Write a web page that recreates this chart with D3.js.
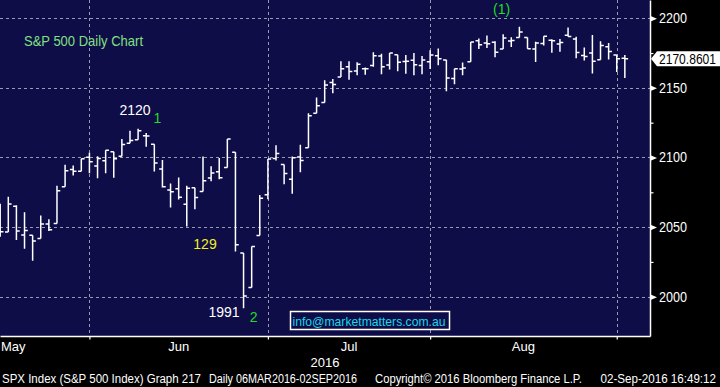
<!DOCTYPE html>
<html>
<head>
<meta charset="utf-8">
<script src="https://cdn.jsdelivr.net/npm/d3@7"></script>
<style>
  body { margin: 0; background: #000; }
  svg { display: block; font-family: "Liberation Sans", Arial, sans-serif; }
</style>
</head>
<body>
<div id="chart"></div>
<script>
// SPX daily bars, 13 May 2016 - 1 Sep 2016
var dates = [
  "2016-05-13","2016-05-16","2016-05-17","2016-05-18","2016-05-19","2016-05-20","2016-05-23","2016-05-24","2016-05-25","2016-05-26","2016-05-27","2016-05-31",
  "2016-06-01","2016-06-02","2016-06-03","2016-06-06","2016-06-07","2016-06-08","2016-06-09","2016-06-10","2016-06-13","2016-06-14","2016-06-15","2016-06-16","2016-06-17","2016-06-20","2016-06-21","2016-06-22","2016-06-23","2016-06-24","2016-06-27","2016-06-28","2016-06-29","2016-06-30",
  "2016-07-01","2016-07-05","2016-07-06","2016-07-07","2016-07-08","2016-07-11","2016-07-12","2016-07-13","2016-07-14","2016-07-15","2016-07-18","2016-07-19","2016-07-20","2016-07-21","2016-07-22","2016-07-25","2016-07-26","2016-07-27","2016-07-28","2016-07-29",
  "2016-08-01","2016-08-02","2016-08-03","2016-08-04","2016-08-05","2016-08-08","2016-08-09","2016-08-10","2016-08-11","2016-08-12","2016-08-15","2016-08-16","2016-08-17","2016-08-18","2016-08-19","2016-08-22","2016-08-23","2016-08-24","2016-08-25","2016-08-26","2016-08-29","2016-08-30","2016-08-31",
  "2016-09-01"
];
var opens = [
  2062.50,2046.53,2065.04,2044.38,2044.21,2041.88,2052.23,2052.65,2078.93,2091.44,2090.06,2100.13,
  2093.94,2097.71,2104.07,2100.83,2110.18,2112.71,2115.65,2109.57,2091.75,2076.65,2077.60,2066.36,2078.20,2075.58,2085.19,2089.75,2092.80,2103.81,2031.45,2006.67,2043.97,2073.17,
  2099.34,2095.05,2084.43,2100.42,2106.97,2131.72,2139.50,2153.81,2157.88,2165.13,2162.04,2163.79,2166.10,2172.91,2166.47,2173.71,2168.97,2169.81,2166.05,2168.83,
  2173.15,2169.94,2156.81,2163.51,2168.79,2183.76,2182.24,2182.81,2177.97,2183.74,2186.08,2186.24,2177.84,2181.90,2184.24,2181.58,2187.81,2185.09,2173.29,2175.10,2170.19,2179.45,2173.56,
  2171.33
];
var highs = [
  2066.79,2071.88,2065.69,2060.61,2044.21,2058.35,2055.58,2079.67,2094.73,2094.30,2099.06,2103.48,
  2100.97,2105.26,2104.07,2113.36,2119.22,2120.55,2117.64,2109.57,2098.12,2081.30,2085.65,2079.62,2078.20,2100.66,2093.66,2099.71,2113.32,2103.81,2031.45,2036.09,2073.13,2098.94,
  2108.71,2095.05,2100.72,2109.08,2131.71,2143.16,2155.40,2156.45,2169.05,2169.05,2168.35,2164.63,2175.63,2174.56,2175.11,2173.71,2173.54,2174.98,2172.85,2177.09,
  2178.29,2170.20,2163.79,2168.19,2182.87,2185.44,2187.66,2183.41,2188.45,2186.28,2193.81,2186.24,2183.08,2187.03,2185.00,2185.15,2193.42,2186.66,2179.00,2187.94,2183.48,2182.27,2173.79,
  2173.56
];
var lows = [
  2043.13,2046.53,2040.82,2034.49,2025.91,2041.88,2047.26,2052.65,2078.93,2087.08,2090.06,2088.66,
  2085.10,2088.59,2085.36,2100.83,2110.18,2112.71,2107.73,2089.96,2078.46,2064.10,2069.80,2050.37,2062.84,2075.58,2083.02,2084.36,2092.80,2032.57,1991.68,2006.67,2043.97,2070.00,
  2097.90,2080.86,2074.02,2089.39,2106.97,2131.72,2139.50,2146.21,2157.88,2155.79,2159.07,2159.40,2165.13,2159.75,2163.24,2161.95,2160.18,2159.07,2159.74,2163.49,
  2166.21,2147.58,2152.56,2159.07,2168.79,2177.85,2178.61,2172.00,2177.97,2179.42,2186.08,2178.14,2168.50,2180.46,2175.13,2175.96,2186.80,2171.25,2169.74,2160.39,2170.19,2170.41,2161.35,
  2157.09
];
var closes = [
  2046.61,2066.66,2047.21,2047.63,2040.04,2052.32,2048.04,2076.06,2090.54,2090.10,2099.06,2096.95,
  2099.33,2105.26,2099.13,2109.41,2112.13,2119.12,2115.48,2096.07,2079.06,2075.32,2071.50,2077.99,2071.22,2083.25,2088.90,2085.45,2113.32,2037.41,2000.54,2036.09,2070.77,2098.86,
  2102.95,2088.55,2099.73,2097.90,2129.90,2137.16,2152.14,2152.43,2163.75,2161.74,2166.89,2163.78,2173.02,2165.17,2175.03,2168.48,2169.18,2166.58,2170.06,2173.60,
  2170.84,2157.03,2163.79,2164.25,2182.87,2180.89,2181.74,2175.49,2185.79,2184.05,2190.15,2178.15,2182.22,2187.02,2183.87,2182.64,2186.90,2175.44,2172.47,2169.04,2180.38,2176.12,2170.95,
  2170.86
];

var priceTicks = [2000, 2050, 2100, 2150, 2200];
var minorTicks = [2025, 2075, 2125, 2175];
var lastPrice = 2170.8601;
var monthNames = ["Jan","Feb","Mar","Apr","May","Jun","Jul","Aug","Sep","Oct","Nov","Dec"];
var yearLabel = "2016";

// chart notes: text, anchor date, price level
var noteText  = ["2120", "1", "129", "1991", "2", "(1)"];
var noteDate  = ["2016-06-08", "2016-06-10", "2016-06-20", "2016-06-27", "2016-06-28", "2016-08-11"];
var notePrice = [2130.2, 2124.8, 2034.3, 1985.4, 1981.8, 2203];
var noteColor = ["#ffffff", "#22dd22", "#f2f21c", "#ffffff", "#22dd22", "#22dd22"];

var width = 720, height = 387;
var plotW = 650, plotH = 336;
var navy = "#0e0d48";

var svg = d3.select("#chart").append("svg")
    .attr("width", width)
    .attr("height", height);

svg.append("rect").attr("width", width).attr("height", height).attr("fill", "#000");
svg.append("rect").attr("width", plotW).attr("height", plotH).attr("fill", navy);

svg.append("clipPath").attr("id", "clip")
    .append("rect").attr("width", plotW).attr("height", plotH);

// X: one slot per trading day
var x = d3.scaleLinear()
    .domain([-0.023, 80.1])
    .range([0, plotW]);

// Y
var y = d3.scaleLinear()
    .domain([1971.8, 2213.1])
    .range([plotH, 0]);

// last trading day of each month
var monthEnds = [];
dates.forEach(function (d, i) {
    if (i < dates.length - 1 && d.slice(5, 7) !== dates[i + 1].slice(5, 7)) monthEnds.push(i);
});

// grid
var grid = svg.append("g")
    .attr("stroke", "#9a9aae")
    .attr("stroke-width", 1)
    .attr("stroke-dasharray", "3,3");

grid.selectAll("line.h")
    .data(priceTicks)
    .join("line")
    .attr("x1", 0).attr("x2", plotW)
    .attr("y1", d => Math.round(y(d)) + 0.5)
    .attr("y2", d => Math.round(y(d)) + 0.5);

grid.selectAll("line.v")
    .data(monthEnds)
    .join("line")
    .attr("y1", 0).attr("y2", plotH)
    .attr("x1", d => Math.round(x(d)) + 0.5)
    .attr("x2", d => Math.round(x(d)) + 0.5);

// OHLC bars
var tk = 3.3;
svg.append("g")
    .attr("clip-path", "url(#clip)")
    .selectAll("path")
    .data(d3.range(dates.length))
    .join("path")
    .attr("d", i => `M${x(i)},${y(highs[i])}V${y(lows[i])}` +
        `M${x(i) - tk},${y(opens[i])}H${x(i)}` +
        `M${x(i)},${y(closes[i])}H${x(i) + tk}`)
    .attr("fill", "none")
    .attr("stroke", "#fff")
    .attr("stroke-width", 1.5);

// right axis
var yAxis = svg.append("g")
    .attr("transform", `translate(${plotW}, 0)`)
    .call(d3.axisRight(y).tickValues(priceTicks).tickFormat(d3.format("d"))
        .tickSize(0).tickSizeOuter(0).tickPadding(9));
yAxis.select(".domain").attr("stroke", "#fff").attr("stroke-width", 1.5);
yAxis.selectAll("text")
    .attr("fill", "#fff")
    .attr("font-size", 14)
    .attr("textLength", 28)
    .attr("lengthAdjust", "spacingAndGlyphs");
yAxis.selectAll(".tick").append("path")
    .attr("d", "M0,-3L7,0L0,3Z")
    .attr("fill", "#fff");

var yMinor = svg.append("g")
    .attr("transform", `translate(${plotW}, 0)`)
    .call(d3.axisRight(y).tickValues(minorTicks).tickSize(3.5).tickFormat(""));
yMinor.select(".domain").remove();
yMinor.selectAll("line").attr("stroke", "#fff").attr("stroke-width", 1.2);

// last price tag
var yl = y(lastPrice);
svg.append("path")
    .attr("d", `M651,${yl}L657,${yl - 7.5}H720V${yl + 7.5}H657Z`)
    .attr("fill", "#fff");
svg.append("text")
    .attr("x", 659).attr("y", yl + 5)
    .attr("font-size", 14)
    .attr("textLength", 57)
    .attr("lengthAdjust", "spacingAndGlyphs")
    .attr("fill", "#000")
    .text(d3.format(".4f")(lastPrice));

// bottom axis
var xAxis = svg.append("g")
    .attr("transform", `translate(0, ${plotH})`)
    .call(d3.axisBottom(x).tickValues(monthEnds).tickSize(3.5).tickSizeOuter(0).tickFormat(""));
xAxis.select(".domain").attr("stroke", "#fff").attr("stroke-width", 1.5);
xAxis.selectAll("line").attr("stroke", "#fff").attr("stroke-width", 1.2);

// month labels, centred between month ends
var labels = svg.append("g").attr("fill", "#fff").attr("font-size", 13);
monthEnds.forEach(function (e, k) {
    var m = monthNames[+dates[e].slice(5, 7) - 1];
    if (k === 0) {
        labels.append("text").attr("x", 1).attr("y", 351).text(m);
    } else {
        labels.append("text")
            .attr("x", (x(monthEnds[k - 1]) + x(e)) / 2)
            .attr("y", 351)
            .attr("text-anchor", "middle")
            .text(m);
    }
});
labels.append("text")
    .attr("x", plotW / 2).attr("y", 366.5)
    .attr("text-anchor", "middle")
    .text(yearLabel);

// title
svg.append("text")
    .attr("x", 24).attr("y", 45.5)
    .attr("font-size", 15)
    .attr("textLength", 119)
    .attr("lengthAdjust", "spacingAndGlyphs")
    .attr("fill", "#80e080")
    .text("S&P 500 Daily Chart");

// notes
svg.append("g")
    .attr("font-size", 14)
    .selectAll("text")
    .data(d3.range(noteText.length))
    .join("text")
    .attr("x", i => x(dates.indexOf(noteDate[i])))
    .attr("y", i => y(notePrice[i]))
    .attr("text-anchor", "middle")
    .attr("dx", i => [-3, 3, 2, -19.5, 2, -1.6][i])
    .attr("fill", i => noteColor[i])
    .text(i => noteText[i]);

// email box
svg.append("rect")
    .attr("x", 290.5).attr("y", 311.5)
    .attr("width", 159).attr("height", 18)
    .attr("fill", navy)
    .attr("stroke", "#fff")
    .attr("stroke-width", 1.5);
svg.append("text")
    .attr("x", 292.5).attr("y", 326)
    .attr("font-size", 13.5)
    .attr("textLength", 153)
    .attr("lengthAdjust", "spacingAndGlyphs")
    .attr("fill", "#19d8ea")
    .text("info@marketmatters.com.au");

// footer
var foot = svg.append("g").attr("fill", "#fff").attr("font-size", 12.5);
[["SPX Index (S&P 500 Index) Graph 217", 2, 199],
 ["Daily 06MAR2016-02SEP2016", 209, 148],
 ["Copyright\u00a9 2016 Bloomberg Finance L.P.", 375, 207],
 ["02-Sep-2016 16:49:12", 600.5, 115.5]].forEach(function (f) {
    foot.append("text")
        .attr("x", f[1]).attr("y", 382.5)
        .attr("textLength", f[2])
        .attr("lengthAdjust", "spacingAndGlyphs")
        .text(f[0]);
});
</script>
</body>
</html>
